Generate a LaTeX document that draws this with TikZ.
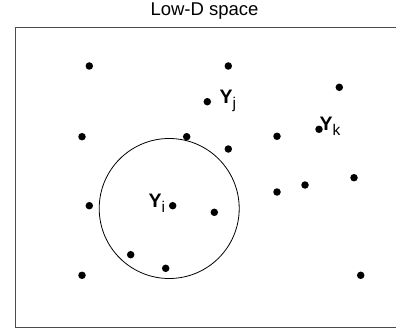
\documentclass[tikz,border=0pt]{standalone}
\usepackage{fontspec}
\setmainfont{Liberation Sans}
\begin{document}
\begin{tikzpicture}[x=1pt,y=-1pt,
  pt/.style={circle,fill=black,inner sep=0pt,minimum size=7.5pt},
  lbl/.style={inner sep=0pt,anchor=base west,font=\fontsize{19.5}{19.5}\selectfont},
  frame/.style={draw=black!70,line width=1.4pt}]
\useasboundingbox (0,0) rectangle (396,334);
\node[font=\fontsize{18.5}{18.5}\selectfont,inner sep=0pt,anchor=base] (title) at (204.5,15.5) {Low-D space};
\draw[frame] (397,27.7) -- (15.5,27.7) -- (15.5,327.7) -- (397,327.7);
\node[circle,draw,line width=0.8pt,minimum size=140pt,inner sep=0pt] (nbhd) at (169.2,208.5) {};
% points
\node[pt] (p1) at (89.3,66) {};
\node[pt] (p2) at (228.3,66) {};
\node[pt] (pj) at (207.3,101.7) {};
\node[pt] (p3) at (82,136.7) {};
\node[pt] (p4) at (186.7,136.7) {};
\node[pt] (p5) at (228.3,149) {};
\node[pt] (p6) at (89.3,205.7) {};
\node[pt] (pi) at (172.7,205.7) {};
\node[pt] (p7) at (214.3,212.3) {};
\node[pt] (p8) at (130.7,254.7) {};
\node[pt] (p9) at (165.7,268.3) {};
\node[pt] (p10) at (82,275.3) {};
\node[pt] (p11) at (339.3,87.3) {};
\node[pt] (pk) at (319,129.3) {};
\node[pt] (p12) at (277,136.3) {};
\node[pt] (p13) at (354,177.7) {};
\node[pt] (p14) at (305,185) {};
\node[pt] (p15) at (277,192) {};
\node[pt] (p16) at (360.7,275.3) {};
% labels
\node[lbl] (lj) at (219.5,103.5) {\textbf{Y}\raisebox{-5pt}{\fontsize{15.5}{15.5}\selectfont j}};
\node[lbl] (lk) at (319.5,130.5) {\textbf{Y}\raisebox{-5pt}{\fontsize{15.5}{15.5}\selectfont k}};
\node[lbl] (li) at (148.5,207.5) {\textbf{Y}\raisebox{-5pt}{\fontsize{15.5}{15.5}\selectfont i}};
\end{tikzpicture}
\end{document}
